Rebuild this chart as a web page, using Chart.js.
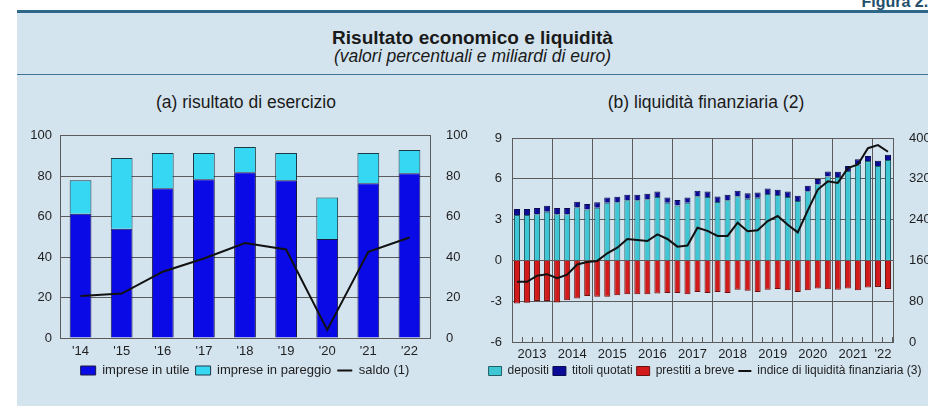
<!DOCTYPE html>
<html lang="it">
<head>
    <meta charset="UTF-8">
    <title>Risultato economico e liquidità</title>
    <script src="https://cdn.jsdelivr.net/npm/chart.js"></script>
    <style>
        body {
            margin: 0;
            width: 928px;
            height: 406px;
            overflow: hidden;
            background: #ffffff;
            font-family: "Liberation Sans", Arial, sans-serif;
            position: relative;
        }
        .fig {
            position: absolute;
            right: -9px;
            top: -7px;
            font-weight: bold;
            font-size: 16px;
            color: #23506b;
        }
        .panel {
            position: absolute;
            left: 17px;
            top: 10px;
            width: 930px;
            height: 400px;
            background: #d4e4ef;
            border-top: 3px solid #2e6787;
        }
        .divider {
            position: absolute;
            left: 17px;
            top: 74px;
            width: 930px;
            height: 1px;
            background: #3f7596;
        }
        .title {
            position: absolute;
            left: 17px;
            width: 911px;
            text-align: center;
            color: #1a1a1a;
        }
        .sub {
            position: absolute;
            text-align: center;
            font-size: 17.5px;
            color: #1a1a1a;
        }
        .box {
            position: absolute;
        }
    </style>
</head>
<body>
    <div class="fig">Figura 2.5</div>
    <div class="panel"></div>
    <div class="divider"></div>
    <div class="title" style="top:27px;font-size:19px;font-weight:bold;">Risultato economico e liquidità</div>
    <div class="title" style="top:46px;font-size:17.5px;font-style:italic;">(valori percentuali e miliardi di euro)</div>
    <div class="sub" style="left:21px;width:450px;top:92px;">(a) risultato di esercizio</div>
    <div class="sub" style="left:481px;width:450px;top:92px;">(b) liquidità finanziaria (2)</div>

    <div class="box" style="left:20px;top:120px;width:450px;height:270px;">
        <canvas id="risultato" width="450" height="270"></canvas>
    </div>
    <div class="box" style="left:455px;top:120px;width:500px;height:270px;">
        <canvas id="liquidita" width="500" height="270"></canvas>
    </div>

    <script>
        // (a) risultato di esercizio
        const anni = ["'14", "'15", "'16", "'17", "'18", "'19", "'20", "'21", "'22"];
        const impreseUtile = [61.5, 54, 74, 78.5, 82, 78, 49, 76.5, 81.5];
        const impresePareggio = [16.5, 35, 17.5, 13, 12.5, 13.5, 20.5, 15, 11.5];
        const saldo = [20.8, 22, 32.8, 39.3, 47, 43.8, 4, 42.6, 49.7];

        // (b) liquidità finanziaria, dati trimestrali 2013 T1 - 2022 T2
        const trimestri = [
            "2013T1", "2013T2", "2013T3", "2013T4", "2014T1", "2014T2", "2014T3", "2014T4",
            "2015T1", "2015T2", "2015T3", "2015T4", "2016T1", "2016T2", "2016T3", "2016T4",
            "2017T1", "2017T2", "2017T3", "2017T4", "2018T1", "2018T2", "2018T3", "2018T4",
            "2019T1", "2019T2", "2019T3", "2019T4", "2020T1", "2020T2", "2020T3", "2020T4",
            "2021T1", "2021T2", "2021T3", "2021T4", "2022T1", "2022T2"
        ];
        const etichetteAnni = ["2013", "2014", "2015", "2016", "2017", "2018", "2019", "2020", "2021", "'22"];
        const depositi = [3.33, 3.33, 3.4, 3.57, 3.4, 3.4, 3.9, 3.75, 3.87, 4.23, 4.28, 4.43, 4.43, 4.5, 4.67, 4.23,
            4.04, 4.23, 4.72, 4.67, 4.3, 4.43, 4.72, 4.53, 4.6, 4.89, 4.8, 4.67, 4.36, 5.09, 5.6, 6.16,
            6.13, 6.57, 7.06, 7.3, 6.95, 7.38];
        const titoliQuotati = [0.45, 0.45, 0.45, 0.45, 0.45, 0.45, 0.42, 0.4, 0.4, 0.4, 0.4, 0.4, 0.4, 0.4, 0.4, 0.4,
            0.4, 0.4, 0.4, 0.4, 0.4, 0.4, 0.4, 0.4, 0.4, 0.4, 0.4, 0.4, 0.4, 0.4, 0.38, 0.38,
            0.38, 0.38, 0.38, 0.38, 0.37, 0.38];
        const prestitiBreve = [-3.17, -3.12, -2.98, -2.98, -3.1, -2.93, -2.8, -2.61, -2.68, -2.68, -2.56, -2.49, -2.49, -2.49, -2.44, -2.39,
            -2.39, -2.49, -2.32, -2.39, -2.32, -2.39, -2.15, -2.24, -2.32, -2.15, -2.1, -2.2, -2.32, -2.2, -2.07, -2.12,
            -2.15, -2.07, -2.2, -2.0, -1.95, -2.1];
        const indiceLiquidita = [118, 118, 130, 133, 125, 132, 152, 157, 159, 174, 185, 202, 200, 198, 211, 202,
            187, 189, 224, 218, 208, 208, 234, 217, 219, 237, 247, 230, 215, 258, 299, 315,
            312, 341, 348, 380, 386, 373];

        const FONT = "'Liberation Sans', Arial, sans-serif";
        const GRID = "#5c5c5c";
        Chart.defaults.font.family = FONT;
        Chart.defaults.color = "#1e1e1e";
        Chart.defaults.animation = false;

        // keep the legend in dataset order (the line is drawn on top via "order")
        const byIndex = (a, b) => a.datasetIndex - b.datasetIndex;

        new Chart(document.getElementById("risultato"), {
            data: {
                labels: anni,
                datasets: [
                    {
                        type: "bar",
                        label: "imprese in utile",
                        data: impreseUtile,
                        backgroundColor: "#0a0ae6",
                        borderColor: "#1a1a40",
                        borderWidth: 1,
                        pointStyle: "rect",
                        barPercentage: 0.53,
                        categoryPercentage: 1,
                        stack: "a",
                        order: 1
                    },
                    {
                        type: "bar",
                        label: "imprese in pareggio",
                        data: impresePareggio,
                        backgroundColor: "#35d7f2",
                        borderColor: "#1a3a48",
                        borderWidth: 1,
                        pointStyle: "rect",
                        barPercentage: 0.53,
                        categoryPercentage: 1,
                        stack: "a",
                        order: 1
                    },
                    {
                        type: "line",
                        label: "saldo (1)",
                        data: saldo,
                        borderColor: "#111111",
                        backgroundColor: "#111111",
                        borderWidth: 2,
                        pointRadius: 0,
                        pointStyle: "line",
                        yAxisID: "y",
                        order: 0
                    }
                ]
            },
            options: {
                responsive: false,
                layout: { padding: { top: 15, bottom: 3 } },
                plugins: {
                    legend: {
                        position: "bottom",
                        labels: {
                            usePointStyle: true,
                            pointStyleWidth: 15,
                            boxHeight: 9,
                            padding: 6,
                            color: "#1e1e1e",
                            font: { size: 13 },
                            sort: byIndex
                        }
                    },
                    tooltip: { enabled: false }
                },
                scales: {
                    x: {
                        stacked: true,
                        grid: { display: false, drawTicks: false },
                        border: { color: GRID, width: 1 },
                        ticks: { font: { size: 13 }, padding: 6 },
                        afterFit: s => { s.height = 20; }
                    },
                    y: {
                        stacked: true,
                        min: 0,
                        max: 100,
                        ticks: { stepSize: 20, font: { size: 13 }, padding: 8 },
                        grid: { color: GRID, drawTicks: false },
                        border: { color: GRID },
                        afterFit: s => { s.width = 40; }
                    },
                    y2: {
                        position: "right",
                        min: 0,
                        max: 100,
                        ticks: { stepSize: 20, font: { size: 13 }, padding: 8 },
                        grid: { display: false },
                        border: { color: GRID },
                        afterFit: s => { s.width = 40; }
                    }
                }
            }
        });

        new Chart(document.getElementById("liquidita"), {
            data: {
                labels: trimestri,
                datasets: [
                    {
                        type: "bar",
                        label: "depositi",
                        data: depositi,
                        backgroundColor: "#3ec6d4",
                        borderColor: "#1f5f66",
                        borderWidth: 1,
                        pointStyle: "rect",
                        barPercentage: 0.6,
                        categoryPercentage: 1,
                        stack: "b",
                        order: 1
                    },
                    {
                        type: "bar",
                        label: "titoli quotati",
                        data: titoliQuotati,
                        backgroundColor: "#0a0a96",
                        borderColor: "#0a0a50",
                        borderWidth: 1,
                        pointStyle: "rect",
                        barPercentage: 0.6,
                        categoryPercentage: 1,
                        stack: "b",
                        order: 1
                    },
                    {
                        type: "bar",
                        label: "prestiti a breve",
                        data: prestitiBreve,
                        backgroundColor: "#d21a1a",
                        borderColor: "#6a1010",
                        borderWidth: 1,
                        pointStyle: "rect",
                        barPercentage: 0.6,
                        categoryPercentage: 1,
                        stack: "b",
                        order: 1
                    },
                    {
                        type: "line",
                        label: "indice di liquidità finanziaria (3)",
                        data: indiceLiquidita,
                        borderColor: "#111111",
                        backgroundColor: "#111111",
                        borderWidth: 2,
                        pointRadius: 0,
                        pointStyle: "line",
                        yAxisID: "y2",
                        order: 0
                    }
                ]
            },
            options: {
                responsive: false,
                layout: { padding: { top: 18, bottom: 3 } },
                plugins: {
                    legend: {
                        position: "bottom",
                        labels: {
                            usePointStyle: true,
                            pointStyleWidth: 13,
                            boxHeight: 9,
                            padding: 4,
                            color: "#1e1e1e",
                            font: { size: 12 },
                            sort: byIndex
                        }
                    },
                    tooltip: { enabled: false }
                },
                scales: {
                    x: {
                        stacked: true,
                        offset: true,
                        grid: {
                            offset: true,
                            color: c => (c.index > 0 && c.index % 4 === 0) ? GRID : "rgba(0,0,0,0)",
                            tickColor: GRID,
                            tickLength: -5
                        },
                        border: { color: GRID },
                        ticks: {
                            autoSkip: false,
                            maxRotation: 0,
                            font: { size: 13 },
                            padding: 10,
                            labelOffset: -5,
                            callback: (v, i) => {
                                const n = trimestri.length;
                                if (i % 4 === 2 || (i === n - 1 && n % 4 === 2)) {
                                    return etichetteAnni[Math.floor(i / 4)];
                                }
                                return "";
                            }
                        },
                        afterFit: s => { s.height = 19; }
                    },
                    y: {
                        stacked: true,
                        min: -6,
                        max: 9,
                        ticks: { stepSize: 3, font: { size: 13 }, padding: 10 },
                        grid: { color: GRID, drawTicks: false },
                        border: { color: GRID },
                        afterFit: s => { s.width = 57; }
                    },
                    y2: {
                        position: "right",
                        min: 0,
                        max: 400,
                        ticks: { stepSize: 80, font: { size: 13 }, padding: 8 },
                        grid: { display: false },
                        border: { color: GRID },
                        afterFit: s => { s.width = 62; }
                    }
                }
            }
        });
    </script>
</body>
</html>
